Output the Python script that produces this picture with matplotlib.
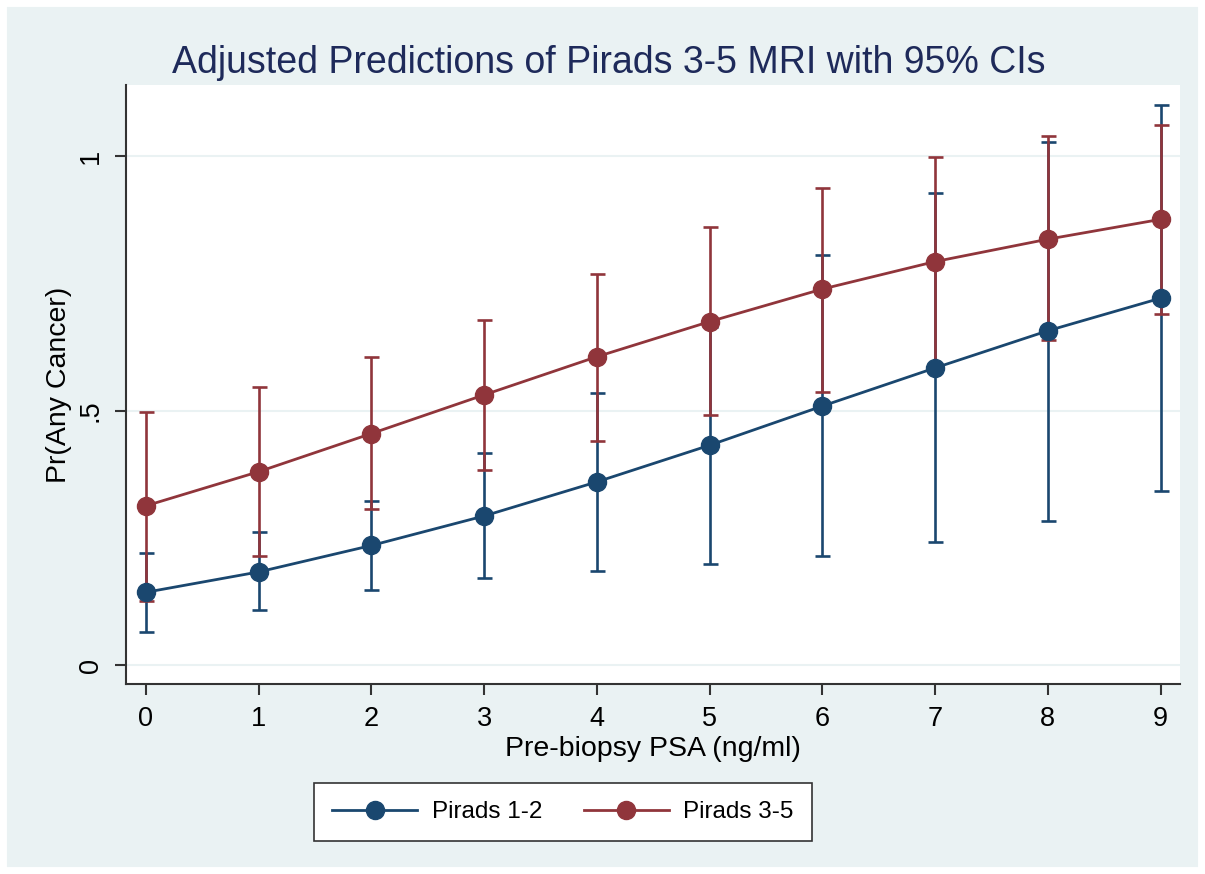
import matplotlib as mpl
mpl.use('Agg')
import matplotlib.pyplot as plt
from matplotlib.patches import Rectangle

plt.rcParams['font.family'] = ['Liberation Sans', 'DejaVu Sans']

psa = [0, 1, 2, 3, 4, 5, 6, 7, 8, 9]

low_margin = [0.143, 0.183, 0.235, 0.293, 0.360, 0.432, 0.509, 0.584, 0.657, 0.721]
low_lo = [0.065, 0.108, 0.147, 0.172, 0.185, 0.199, 0.214, 0.241, 0.284, 0.342]
low_hi = [0.221, 0.261, 0.323, 0.416, 0.535, 0.665, 0.805, 0.928, 1.029, 1.101]

high_margin = [0.313, 0.380, 0.455, 0.531, 0.606, 0.675, 0.739, 0.793, 0.837, 0.876]
high_lo = [0.126, 0.215, 0.307, 0.383, 0.441, 0.491, 0.537, 0.588, 0.639, 0.690]
high_hi = [0.497, 0.547, 0.605, 0.678, 0.769, 0.861, 0.938, 0.998, 1.039, 1.061]

navy = '#1a476f'
maroon = '#90353b'
bg = '#eaf2f3'

fig = plt.figure(figsize=(12.05, 8.74), dpi=100, facecolor=bg)
# thin white margin round the graph region
fig.patches.append(Rectangle((0, 0), 1, 1, transform=fig.transFigure,
                             facecolor='none', edgecolor='white', lw=10,
                             zorder=10))

ax = fig.add_axes([0.1046, 0.2174, 0.8747, 0.6853])
ax.set_facecolor('white')

for y, lo, hi, c in [(low_margin, low_lo, low_hi, navy),
                     (high_margin, high_lo, high_hi, maroon)]:
    yerr = [[m - l for m, l in zip(y, lo)], [h - m for m, h in zip(y, hi)]]
    ax.errorbar(psa, y, yerr=yerr, fmt='none', ecolor=c, elinewidth=1.9,
                capsize=5.4, capthick=1.9, zorder=2)

ax.plot(psa, low_margin, color=navy, lw=2.0, marker='o', ms=13,
        label='Pirads 1-2', zorder=3)
ax.plot(psa, high_margin, color=maroon, lw=2.0, marker='o', ms=13,
        label='Pirads 3-5', zorder=3)

ax.set_xlim(-0.177, 9.173)
ax.set_ylim(-0.0373, 1.140)
ax.set_xticks(psa)
ax.set_yticks([0, 0.5, 1])
ax.set_yticklabels(['0', '.5', '1'], rotation=90, va='center')
ax.grid(axis='y', color=bg, lw=1.5)
ax.set_axisbelow(True)

for s in ['top', 'right']:
    ax.spines[s].set_visible(False)
for s in ['left', 'bottom']:
    ax.spines[s].set_color('#333333')
    ax.spines[s].set_linewidth(1.5)
ax.tick_params(length=8, width=1.5, color='#333333', labelsize=19.5, pad=8)

ax.set_xlabel('Pre-biopsy PSA (ng/ml)', fontsize=20.5, labelpad=3)
ax.set_ylabel('Pr(Any Cancer)', fontsize=20.5, labelpad=4)

fig.text(0.505, 0.928, 'Adjusted Predictions of Pirads 3-5 MRI with 95% CIs',
         ha='center', va='center', fontsize=27, color='#1e2a5a')

leg = fig.legend(loc='center', bbox_to_anchor=(0.4672, 0.0709), ncol=2,
                 fontsize=17.5, frameon=True, fancybox=False, handlelength=3.5,
                 handletextpad=0.6, columnspacing=1.7, borderpad=0.75,
                 framealpha=1)
leg.get_frame().set_facecolor('white')
leg.get_frame().set_edgecolor('#333333')
leg.get_frame().set_linewidth(1.2)

fig.savefig('out.png', dpi=100, facecolor=fig.get_facecolor())
